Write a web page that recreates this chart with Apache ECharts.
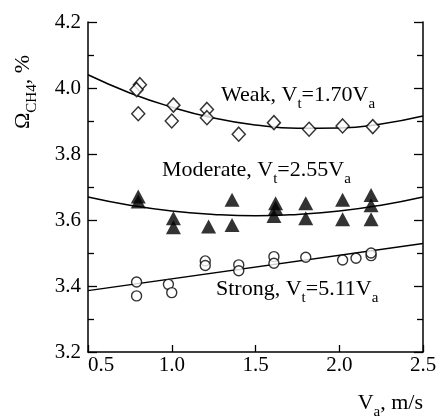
<!DOCTYPE html>
<html>
<head>
<meta charset="utf-8">
<script src="https://cdn.jsdelivr.net/npm/echarts@6/dist/echarts.min.js"></script>
<style>
html,body{margin:0;padding:0;background:#fff;}
#chart{width:440px;height:417px;}
</style>
</head>
<body>
<div id="chart"></div>
<script>
// ---- data ----
const weakX = [0.81, 0.79, 0.80, 1.01, 1.00, 1.21, 1.21, 1.40, 1.61, 1.82, 2.02, 2.20];
const weakY = [4.010, 3.995, 3.922, 3.948, 3.900, 3.935, 3.910, 3.860, 3.895, 3.875, 3.885, 3.883];

const modX = [0.80, 0.80, 1.01, 1.01, 1.22, 1.36, 1.36, 1.62, 1.62, 1.61, 1.80, 1.80, 2.02, 2.02, 2.19, 2.19, 2.19];
const modY = [3.671, 3.656, 3.605, 3.578, 3.580, 3.661, 3.585, 3.651, 3.636, 3.612, 3.651, 3.605, 3.661, 3.602, 3.676, 3.645, 3.602];

const strX = [0.79, 0.79, 0.98, 1.00, 1.20, 1.20, 1.40, 1.40, 1.61, 1.61, 1.80, 2.02, 2.10, 2.19, 2.19];
const strY = [3.412, 3.370, 3.405, 3.380, 3.476, 3.462, 3.464, 3.446, 3.489, 3.469, 3.487, 3.479, 3.484, 3.492, 3.500];

const fitX = [0.5, 0.75, 1.0, 1.25, 1.5, 1.75, 2.0, 2.25, 2.5];
const weakFit = [4.040, 3.985, 3.942, 3.909, 3.888, 3.878, 3.879, 3.891, 3.915];
const modFit = [3.670, 3.645, 3.627, 3.617, 3.613, 3.617, 3.627, 3.645, 3.670];
const strongFitX = [0.5, 2.5];
const strongFit = [3.386, 3.529];

const xTicks = {min: 0.5, max: 2.5, interval: 0.5};
const yTicks = {min: 3.2, max: 4.2, interval: 0.2};

const labelWeak = ['Weak, V', 't', '=1.70V', 'a'];
const labelMod = ['Moderate, V', 't', '=2.55V', 'a'];
const labelStrong = ['Strong, V', 't', '=5.11V', 'a'];
// -------------------------------------

const zip = (xs, ys) => xs.map((x, i) => [x, ys[i]]);
const FONT = '"Liberation Serif", "Times New Roman", serif';
const rich = {
  m: {fontFamily: FONT, fontSize: 22, lineHeight: 24, verticalAlign: 'top', color: '#000'},
  s: {fontFamily: FONT, fontSize: 15, lineHeight: 15, padding: [13, 0, 0, 0], verticalAlign: 'top', color: '#000'}
};
const richText = p => `{m|${p[0]}}{s|${p[1]}}{m|${p[2]}}{s|${p[3]}}`;

const chart = echarts.init(document.getElementById('chart'), null, {renderer: 'canvas'});

const axisCommon = {
  axisLine: {show: true, lineStyle: {color: '#000', width: 1.5}},
  splitLine: {show: false},
  axisLabel: {color: '#000', fontFamily: FONT, fontSize: 21}
};

chart.setOption({
  animation: false,
  backgroundColor: '#fff',
  grid: {left: 88, right: 17, top: 22, bottom: 65},
  xAxis: {
    type: 'value', min: xTicks.min, max: xTicks.max, interval: xTicks.interval,
    position: 'bottom',
    ...axisCommon,
    axisTick: {show: true, inside: true, length: 7, lineStyle: {color: '#000', width: 1.3}},
    axisLabel: {...axisCommon.axisLabel, margin: 3, alignMinLabel: 'left', formatter: v => v.toFixed(1)}
  },
  yAxis: [
    {
      type: 'value', min: yTicks.min, max: yTicks.max, interval: yTicks.interval,
      position: 'left',
      ...axisCommon,
      axisTick: {show: true, inside: true, length: 9, lineStyle: {color: '#000', width: 1.3}},
      minorTick: {show: true, splitNumber: 2, length: 6, lineStyle: {color: '#000', width: 1.3}},
      axisLabel: {...axisCommon.axisLabel, margin: 7, formatter: v => v.toFixed(1)}
    },
    {
      type: 'value', min: yTicks.min, max: yTicks.max, interval: yTicks.interval,
      position: 'right',
      ...axisCommon,
      axisTick: {show: true, inside: true, length: 9, lineStyle: {color: '#000', width: 1.3}},
      minorTick: {show: true, splitNumber: 2, length: 6, lineStyle: {color: '#000', width: 1.3}},
      axisLabel: {show: false}
    }
  ],
  series: [
    {type: 'line', data: zip(fitX, weakFit), smooth: true, showSymbol: false, lineStyle: {color: '#000', width: 1.5}, z: 2},
    {type: 'line', data: zip(fitX, modFit), smooth: true, showSymbol: false, lineStyle: {color: '#000', width: 1.5}, z: 2},
    {type: 'line', data: zip(strongFitX, strongFit), showSymbol: false, lineStyle: {color: '#000', width: 1.5}, z: 2},
    {type: 'scatter', data: zip(weakX, weakY), symbol: 'diamond', symbolSize: [13, 14],
      itemStyle: {color: '#fff', borderColor: '#000', borderWidth: 1.5}, z: 3},
    {type: 'scatter', data: zip(modX, modY), symbol: 'triangle', symbolSize: [15, 14],
      itemStyle: {color: '#000'}, z: 3},
    {type: 'scatter', data: zip(strX, strY), symbol: 'circle', symbolSize: 10,
      itemStyle: {color: '#fff', borderColor: '#000', borderWidth: 1.4}, z: 3}
  ],
  graphic: [
    {type: 'text', x: 221, y: 84, style: {text: richText(labelWeak), rich: rich, verticalAlign: 'top'}},
    {type: 'text', x: 162, y: 159, style: {text: richText(labelMod), rich: rich, verticalAlign: 'top'}},
    {type: 'text', x: 216, y: 278, style: {text: richText(labelStrong), rich: rich, verticalAlign: 'top'}},
    {type: 'text', x: 423, y: 392, style: {text: '{m|V}{s|a}{m|, m/s}', rich: rich, align: 'right', verticalAlign: 'top'}},
    {type: 'text', x: 12, y: 92, rotation: Math.PI / 2,
      style: {text: '{m|Ω}{s|CH4}{m|, %}', rich: rich, align: 'center', verticalAlign: 'top'}}
  ]
});
</script>
</body>
</html>
